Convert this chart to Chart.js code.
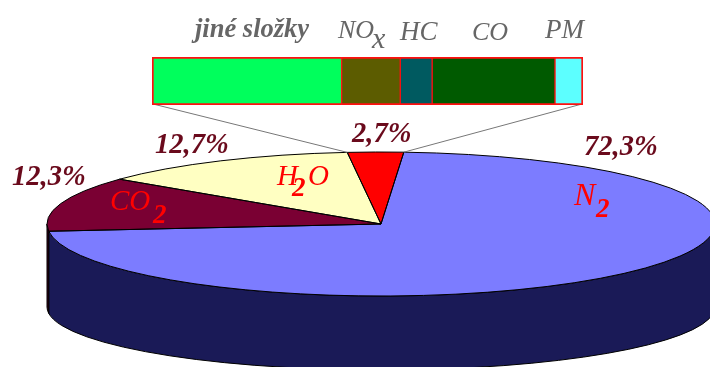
<!DOCTYPE html>
<html>
<head>
<meta charset="utf-8">
<style>
  html, body { margin: 0; padding: 0; background: #fff; overflow: hidden; }
  #wrap { position: relative; width: 710px; height: 367px; }
  #pie { position: absolute; left: 0; top: 0; }
  #bar { position: absolute; left: 152px; top: 57px; }
</style>
<script src="https://cdn.jsdelivr.net/npm/chart.js@4/dist/chart.umd.min.js"></script>
</head>
<body>
<div id="wrap">
  <canvas id="pie" width="710" height="367"></canvas>
  <canvas id="bar" width="431" height="48"></canvas>
</div>
<script>
// složení výfukových plynů (%)
const gasNames = ['ostatní', 'N2', 'CO2', 'H2O'];
const gasValues = [2.7, 72.3, 12.3, 12.7];
const gasLabels = ['2,7%', '72,3%', '12,3%', '12,7%'];
const gasColors = ['#ff0000', '#7c7cff', '#7a0033', '#ffffc2'];
const wallColors = ['#800000', '#1a1a57', '#3d001a', '#80805f'];

// rozpad malé výseče
const partNames = ['jiné složky', 'NOx', 'HC', 'CO', 'PM'];
const partValues = [44.0, 13.6, 7.4, 28.5, 6.5];
const partColors = ['#00ff5c', '#5c5c00', '#005a60', '#005a00', '#5cffff'];

// elipsa koláče na plátně, spodní hrana boku je o něco plošší
const pieCx = 381, pieCy = 224, pieRx = 334, pieRy = 72, pieDepth = 83, pieBottomRy = 63;

function squash(ctx, arc) {
    ctx.translate(pieCx, pieCy);
    ctx.scale(pieRx / arc.outerRadius, pieRy / arc.outerRadius);
    ctx.translate(-arc.x, -arc.y);
}

const pie3d = {
    id: 'pie3d',
    beforeDatasetsDraw(chart) {
        const ctx = chart.ctx;
        const arcs = chart.getDatasetMeta(0).data;
        // bok koláče - jen přední polovina
        arcs.forEach((arc, i) => {
            const a0 = Math.max(arc.startAngle, 0);
            const a1 = Math.min(arc.endAngle, Math.PI);
            if (a1 <= a0) return;
            const R = arc.outerRadius;
            const d = pieDepth * R / pieRy;
            ctx.save();
            squash(ctx, arc);
            ctx.beginPath();
            ctx.arc(arc.x, arc.y, R, a0, a1);
            ctx.ellipse(arc.x, arc.y + d, R, R * pieBottomRy / pieRy, 0, a1, a0, true);
            ctx.closePath();
            ctx.restore();
            ctx.fillStyle = wallColors[i];
            ctx.fill();
            ctx.strokeStyle = '#000';
            ctx.lineWidth = 1;
            ctx.stroke();
        });
        ctx.save();
        squash(ctx, arcs[0]);
    },
    afterDatasetsDraw(chart) {
        const ctx = chart.ctx;
        const arcs = chart.getDatasetMeta(0).data;
        ctx.restore();
        // obrysy výsečí, tloušťka čáry nesmí být zkreslená
        arcs.forEach(arc => {
            ctx.save();
            squash(ctx, arc);
            ctx.beginPath();
            ctx.moveTo(arc.x, arc.y);
            ctx.arc(arc.x, arc.y, arc.outerRadius, arc.startAngle, arc.endAngle);
            ctx.closePath();
            ctx.restore();
            ctx.strokeStyle = '#000';
            ctx.lineWidth = 1;
            ctx.stroke();
        });
        // spojnice k pruhu
        const small = arcs[0];
        const edge = a => [pieCx + pieRx * Math.cos(a), pieCy + pieRy * Math.sin(a)];
        const l = edge(small.startAngle), r = edge(small.endAngle);
        ctx.strokeStyle = '#777';
        ctx.beginPath();
        ctx.moveTo(153, 104); ctx.lineTo(l[0], l[1]);
        ctx.moveTo(582, 104); ctx.lineTo(r[0], r[1]);
        ctx.stroke();
    },
    afterDraw(chart) {
        const ctx = chart.ctx;
        const put = (text, x, y, font, color) => {
            ctx.font = font;
            ctx.fillStyle = color;
            ctx.fillText(text, x, y);
        };
        const serif = '"Liberation Serif", serif';
        const pct = `italic bold 28.5px ${serif}`;
        const dark = '#6a0a1c';
        ctx.save();
        ctx.textBaseline = 'alphabetic';
        ctx.textAlign = 'left';
        put(gasLabels[0], 352, 142, pct, dark);
        put(gasLabels[1], 584, 155, pct, dark);
        put(gasLabels[2], 12, 185, pct, dark);
        put(gasLabels[3], 155, 153, pct, dark);

        const name = `italic 29px ${serif}`;
        const sub = `italic bold 27px ${serif}`;
        put('H', 277, 185, name, '#ff0000');
        put('2', 292, 196, sub, '#ff0000');
        put('O', 308, 185, name, '#ff0000');
        put('CO', 110, 210, name, '#ff0000');
        put('2', 153, 223, sub, '#ff0000');
        put('N', 574, 205, `italic 32px ${serif}`, '#ff0000');
        put('2', 596, 217, sub, '#ff0000');

        const gray = '#666';
        put(partNames[0], 195, 37, `italic bold 26.5px ${serif}`, gray);
        put('NO', 338, 38, `italic 26px ${serif}`, gray);
        put('x', 372, 48, `italic 30px ${serif}`, gray);
        put(partNames[2], 400, 40, `italic 27px ${serif}`, gray);
        put(partNames[3], 472, 40, `italic 26px ${serif}`, gray);
        put(partNames[4], 545, 38, `italic 27px ${serif}`, gray);
        ctx.restore();
    }
};

new Chart(document.getElementById('pie'), {
    type: 'pie',
    data: {
        labels: gasNames,
        datasets: [{
            data: gasValues,
            backgroundColor: gasColors,
            borderWidth: 0,
            hoverOffset: 0
        }]
    },
    options: {
        responsive: false,
        animation: false,
        events: [],
        rotation: -5.8,
        plugins: { legend: { display: false }, tooltip: { enabled: false } }
    },
    plugins: [pie3d]
});

new Chart(document.getElementById('bar'), {
    type: 'bar',
    data: {
        labels: [''],
        datasets: partValues.map((v, i) => ({
            label: partNames[i],
            data: [v],
            backgroundColor: partColors[i],
            borderColor: '#ff1010',
            borderSkipped: false,
            borderWidth: {
                top: 2, bottom: 2,
                left: i === 0 ? 2 : 1,
                right: i === partValues.length - 1 ? 2 : 1
            },
            barPercentage: 1,
            categoryPercentage: 1
        }))
    },
    options: {
        indexAxis: 'y',
        responsive: false,
        animation: false,
        events: [],
        scales: {
            x: { stacked: true, display: false, min: 0, max: partValues.reduce((a, b) => a + b, 0) },
            y: { stacked: true, display: false }
        },
        plugins: { legend: { display: false }, tooltip: { enabled: false } }
    }
});
</script>
</body>
</html>
